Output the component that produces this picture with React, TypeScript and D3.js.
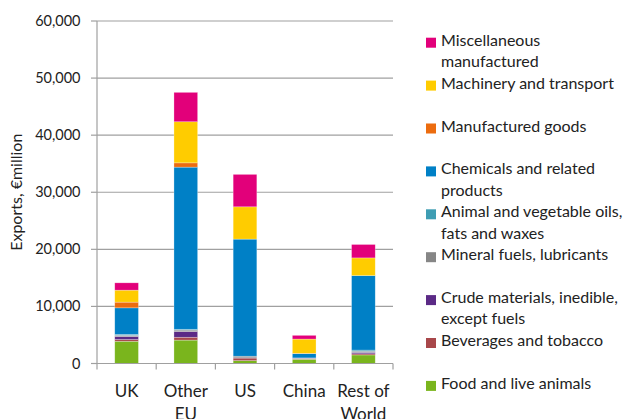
import React from "react";
import * as d3 from "d3";

const categories = ["UK", "Other EU", "US", "China", "Rest of World"];
const categoryLines = [["UK"], ["Other", "EU"], ["US"], ["China"], ["Rest of", "World"]];

const seriesNames = [
  "Food and live animals",
  "Beverages and tobacco",
  "Crude materials, inedible, except fuels",
  "Mineral fuels, lubricants",
  "Animal and vegetable oils, fats and waxes",
  "Chemicals and related products",
  "Manufactured goods",
  "Machinery and transport",
  "Miscellaneous manufactured",
];

const food = [3900, 4100, 500, 750, 1500];
const beverages = [300, 500, 450, 50, 200];
const crude = [530, 1000, 50, 100, 250];
const mineral = [200, 250, 280, 80, 200];
const animalOils = [150, 150, 0, 0, 200];
const chemicals = [4670, 28400, 20510, 750, 13050];
const manufactured = [1000, 750, 0, 50, 0];
const machinery = [2100, 7200, 5660, 2500, 3100];
const misc = [1280, 5150, 5680, 650, 2350];

const seriesValues = [food, beverages, crude, mineral, animalOils, chemicals, manufactured, machinery, misc];
const seriesColors = ["#7AB51D", "#A8474A", "#5B2A86", "#868686", "#3E9DB3", "#0080C6", "#EC6C0F", "#FFCC00", "#E2007A"];

const legendLines = [
  ["Food and live animals"],
  ["Beverages and tobacco"],
  ["Crude materials, inedible,", "except fuels"],
  ["Mineral fuels, lubricants"],
  ["Animal and vegetable oils,", "fats and waxes"],
  ["Chemicals and related", "products"],
  ["Manufactured goods"],
  ["Machinery and transport"],
  ["Miscellaneous", "manufactured"],
];

const yTicks = [0, 10000, 20000, 30000, 40000, 50000, 60000];

const FONT = "Lato, 'Open Sans', sans-serif";

export default function App() {
  const W = 630, H = 419;
  const left = 97, right = 393, top = 21, bottom = 363.5;
  const x = d3.scaleBand<string>().domain(categories).range([left, right]).paddingInner(0.6).paddingOuter(0.3);
  const y = d3.scaleLinear().domain([0, 60000]).range([bottom, top]);
  const table = categories.map((c, i) => {
    const row: any = { cat: c };
    seriesNames.forEach((s, k) => (row[s] = seriesValues[k][i]));
    return row;
  });
  const stacked = d3.stack().keys(seriesNames)(table);
  const fmt = d3.format(",");
  const step = (right - left) / categories.length;
  const boundaries = d3.range(categories.length + 1).map((i) => left + i * step);

  return (
    <svg width={W} height={H} style={{ position: "absolute", left: 0, top: 0, background: "#fff" }} fontFamily={FONT}>
      {yTicks.map((t) => (
        <g key={t}>
          {t > 0 && <line x1={left} x2={right} y1={y(t)} y2={y(t)} stroke="#a0a0a0" strokeWidth={1.2} />}
          <line x1={left - 6} x2={left} y1={y(t)} y2={y(t)} stroke="#a0a0a0" strokeWidth={1.2} />
          <text x={80.5} y={y(t)} dy="0.35em" textAnchor="end" fontSize={14.5} fill="#222">
            {fmt(t)}
          </text>
        </g>
      ))}
      <line x1={left} x2={left} y1={top} y2={bottom} stroke="#a0a0a0" strokeWidth={1.2} />
      {stacked.map((layer, k) => (
        <g key={k} fill={seriesColors[k]}>
          {layer.map((d, i) => {
            const h = y(d[0]) - y(d[1]);
            if (h <= 0) return null;
            return (
              <rect key={i} x={x(categories[i])} y={y(d[1])} width={x.bandwidth()} height={h}
                stroke="#ffffff" strokeOpacity={0.45} strokeWidth={0.6} />
            );
          })}
        </g>
      ))}
      <line x1={left} x2={right} y1={bottom} y2={bottom} stroke="#a0a0a0" strokeWidth={1.2} />
      {boundaries.map((bx, i) => (
        <line key={i} x1={bx} x2={bx} y1={bottom} y2={bottom + 6} stroke="#a0a0a0" strokeWidth={1.2} />
      ))}
      {categoryLines.map((lines, i) => (
        <text key={i} textAnchor="middle" fontSize={17} fill="#222">
          {lines.map((ln, j) => (
            <tspan key={j} x={(x(categories[i]) as number) + x.bandwidth() / 2} y={397 + j * 23}>{ln}</tspan>
          ))}
        </text>
      ))}
      <text transform={`translate(22,${(top + bottom) / 2}) rotate(-90)`} textAnchor="middle" fontSize={16} fill="#222">
        Exports, €million
      </text>
      {legendLines.map((lines, k) => {
        const cy = 42.7 + (seriesNames.length - 1 - k) * 42.9;
        return (
          <g key={k}>
            <rect x={426} y={cy - 5} width={10} height={10} fill={seriesColors[k]} />
            <text fontSize={16} fill="#222">
              {lines.map((ln, j) => (
                <tspan key={j} x={441} y={cy + 3 + j * 21.3}>{ln}</tspan>
              ))}
            </text>
          </g>
        );
      })}
    </svg>
  );
}
